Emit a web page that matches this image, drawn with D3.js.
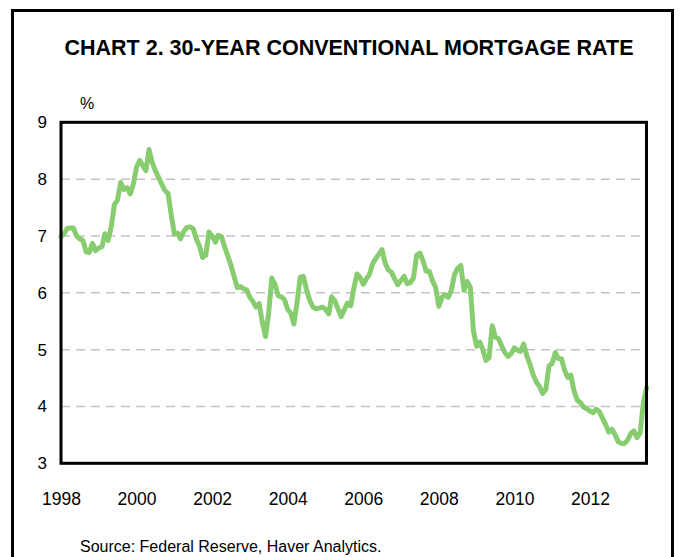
<!DOCTYPE html>
<html>
<head>
<meta charset="utf-8">
<script src="https://cdn.jsdelivr.net/npm/d3@7"></script>
<style>
  html, body { margin: 0; padding: 0; background: #fff; }
  svg { display: block; }
  text { font-family: "Liberation Sans", Arial, sans-serif; fill: #000; }
</style>
</head>
<body>
<svg id="chart" width="681" height="557"></svg>
<script>
// ---- Data (monthly, Jan 1998 – Jul 2013) ----
const startYear = 1998;
const rates1998 = [6.99, 7.04, 7.13, 7.14, 7.14, 7.00, 6.95, 6.92, 6.72, 6.71, 6.87, 6.74];
const rates1999 = [6.79, 6.81, 7.04, 6.92, 7.15, 7.55, 7.63, 7.94, 7.82, 7.85, 7.74, 7.91];
const rates2000 = [8.21, 8.33, 8.24, 8.15, 8.52, 8.29, 8.15, 8.03, 7.91, 7.80, 7.75, 7.38];
const rates2001 = [7.03, 7.05, 6.95, 7.08, 7.15, 7.16, 7.13, 6.95, 6.82, 6.62, 6.66, 7.07];
const rates2002 = [7.00, 6.89, 7.01, 6.99, 6.81, 6.65, 6.49, 6.29, 6.09, 6.11, 6.07, 6.05];
const rates2003 = [5.92, 5.84, 5.75, 5.81, 5.48, 5.23, 5.63, 6.26, 6.15, 5.95, 5.93, 5.88];
const rates2004 = [5.71, 5.64, 5.45, 5.83, 6.27, 6.29, 6.06, 5.87, 5.75, 5.72, 5.73, 5.75];
const rates2005 = [5.71, 5.63, 5.93, 5.86, 5.72, 5.58, 5.70, 5.82, 5.77, 6.07, 6.33, 6.27];
const rates2006 = [6.15, 6.25, 6.32, 6.51, 6.60, 6.68, 6.76, 6.52, 6.40, 6.36, 6.24, 6.14];
const rates2007 = [6.22, 6.29, 6.16, 6.18, 6.26, 6.66, 6.70, 6.57, 6.38, 6.38, 6.21, 6.10];
const rates2008 = [5.76, 5.92, 5.97, 5.92, 6.04, 6.32, 6.43, 6.48, 6.04, 6.20, 6.09, 5.33];
const rates2009 = [5.06, 5.13, 5.00, 4.81, 4.86, 5.42, 5.22, 5.19, 5.06, 4.95, 4.88, 4.93];
const rates2010 = [5.03, 4.99, 4.97, 5.10, 4.89, 4.74, 4.56, 4.43, 4.35, 4.23, 4.30, 4.71];
const rates2011 = [4.76, 4.95, 4.84, 4.84, 4.64, 4.51, 4.55, 4.27, 4.11, 4.07, 3.99, 3.96];
const rates2012 = [3.92, 3.89, 3.95, 3.91, 3.80, 3.68, 3.55, 3.60, 3.50, 3.38, 3.35, 3.35];
const rates2013 = [3.41, 3.53, 3.57, 3.45, 3.54, 4.07, 4.33];

const yTickValues = [3, 4, 5, 6, 7, 8, 9];
const gridValues = [4, 5, 6, 7, 8];
const xTickLabels = ["1998", "2000", "2002", "2004", "2006", "2008", "2010", "2012"];

const titleText = "CHART 2. 30-YEAR CONVENTIONAL MORTGAGE RATE";
const unitText = "%";
const sourceText = "Source: Federal Reserve, Haver Analytics.";

// ---- Build series ----
const allRates = [].concat(rates1998, rates1999, rates2000, rates2001, rates2002, rates2003,
  rates2004, rates2005, rates2006, rates2007, rates2008, rates2009, rates2010, rates2011,
  rates2012, rates2013);
const series = allRates.map((v, i) => ({ date: new Date(startYear, i, 1), value: v }));

// ---- Layout ----
const svg = d3.select("#chart");
const plot = { left: 61, right: 646.5, top: 122.3, bottom: 463.3 };

const x = d3.scaleTime()
  .domain([series[0].date, series[series.length - 1].date])
  .range([plot.left, plot.right]);
const y = d3.scaleLinear().domain([3, 9]).range([plot.bottom, plot.top]);

// outer frame
svg.append("rect")
  .attr("x", 12.5).attr("y", 10.5)
  .attr("width", 660).attr("height", 560)
  .attr("fill", "none").attr("stroke", "#000").attr("stroke-width", 3);

// title
svg.append("text")
  .attr("x", 349).attr("y", 55)
  .attr("text-anchor", "middle")
  .style("font-size", "21.5px").style("font-weight", "bold")
  .text(titleText);

// unit label
svg.append("text")
  .attr("x", 87).attr("y", 109)
  .attr("text-anchor", "middle")
  .style("font-size", "16px")
  .text(unitText);

// gridlines
svg.append("g").selectAll("line")
  .data(gridValues)
  .join("line")
  .attr("x1", plot.left).attr("x2", plot.right)
  .attr("y1", d => y(d)).attr("y2", d => y(d))
  .attr("stroke", "#c4c4c4").attr("stroke-width", 1.5)
  .attr("stroke-dasharray", "9,6");

// y axis labels
const yAxis = d3.axisLeft(y).tickValues(yTickValues).tickSize(0).tickPadding(14).tickFormat(d3.format("d"));
const gy = svg.append("g").attr("transform", `translate(${plot.left},0)`).call(yAxis);
gy.select(".domain").remove();
gy.selectAll("text").style("font-size", "17px").style("font-family", "Liberation Sans, Arial, sans-serif");

// x axis labels
const xTickDates = xTickLabels.map(s => new Date(+s, 0, 1));
const xAxis = d3.axisBottom(x).tickValues(xTickDates).tickSize(0).tickPadding(29).tickFormat(d3.timeFormat("%Y"));
const gx = svg.append("g").attr("transform", `translate(0,${plot.bottom})`).call(xAxis);
gx.select(".domain").remove();
gx.selectAll("text").style("font-size", "17.5px").style("font-family", "Liberation Sans, Arial, sans-serif");

// line
const line = d3.line().x(d => x(d.date)).y(d => y(d.value)).curve(d3.curveLinear);
svg.append("path")
  .datum(series)
  .attr("d", line)
  .attr("fill", "none")
  .attr("stroke", "#88cc70")
  .attr("stroke-width", 5)
  .attr("stroke-linejoin", "round")
  .attr("stroke-linecap", "round");

// plot frame
svg.append("rect")
  .attr("x", plot.left).attr("y", plot.top)
  .attr("width", plot.right - plot.left).attr("height", plot.bottom - plot.top)
  .attr("fill", "none").attr("stroke", "#000").attr("stroke-width", 3);

// source
svg.append("text")
  .attr("x", 80).attr("y", 552)
  .style("font-size", "16px")
  .text(sourceText);
</script>
</body>
</html>
